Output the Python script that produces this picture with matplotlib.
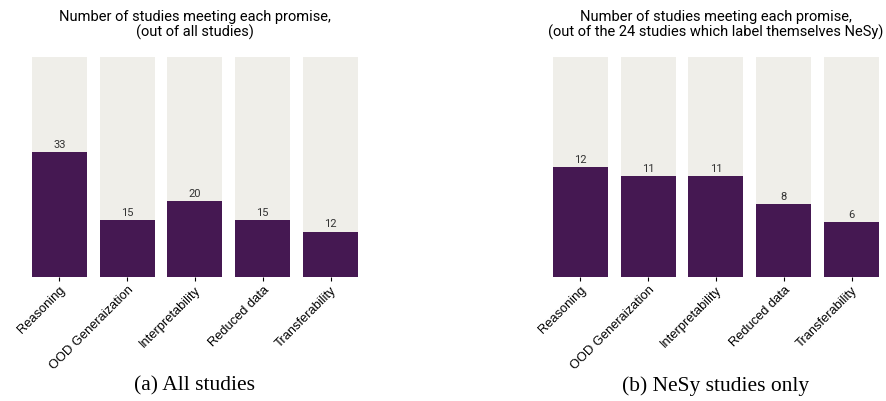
import numpy as np
import matplotlib
matplotlib.use("Agg")
import matplotlib.pyplot as plt

# data
promises = ["Reasoning", "OOD Generaization", "Interpretability", "Reduced data", "Transferability"]
all_counts = [33, 15, 20, 15, 12]
all_total = 58
nesy_counts = [12, 11, 11, 8, 6]
nesy_total = 24

titles = [
    "Number of studies meeting each promise,\n(out of all studies)",
    "Number of studies meeting each promise,\n(out of the 24 studies which label themselves NeSy)",
]
captions = ["(a) All studies", "(b) NeSy studies only"]

bar_color = "#451852"
bg_color = "#efeee9"

fig = plt.figure(figsize=(8.86, 4.01), dpi=100)
ax1 = fig.add_axes([0.034, 0.309, 0.372, 0.549])
ax2 = fig.add_axes([0.622, 0.309, 0.372, 0.549])

panels = [
    (ax1, all_counts, all_total),
    (ax2, nesy_counts, nesy_total),
]

for i, (ax, counts, total) in enumerate(panels):
    x = np.arange(len(promises))
    ax.bar(x, [total] * len(x), width=0.81, color=bg_color)
    bars = ax.bar(x, counts, width=0.81, color=bar_color)
    for b, v in zip(bars, counts):
        ax.annotate(str(v), (b.get_x() + b.get_width() / 2, v),
                    xytext=(0, 1.5), textcoords="offset points",
                    ha="center", va="bottom", fontsize=8,
                    color="#333333", family="Roboto")
    ax.set_xlim(-0.43, len(x) - 0.57)
    ax.set_ylim(0, total)
    ax.set_xticks(x)
    ax.set_xticklabels(promises, rotation=45, ha="right",
                       rotation_mode="anchor", fontsize=9.3,
                       family="Liberation Sans")
    ax.tick_params(axis="x", length=3, width=0.8, pad=2)
    ax.set_yticks([])
    for s in ax.spines.values():
        s.set_visible(False)
    ax.set_title(titles[i], fontsize=10.5, family="Roboto", pad=15,
                 linespacing=1.05)

fig.text(0.034 + 0.372 / 2, 0.025, captions[0], ha="center",
         fontsize=15.5, family="Liberation Serif")
fig.text(0.622 + 0.372 / 2, 0.025, captions[1], ha="center",
         fontsize=15.5, family="Liberation Serif")

fig.savefig("out.png", dpi=100)
